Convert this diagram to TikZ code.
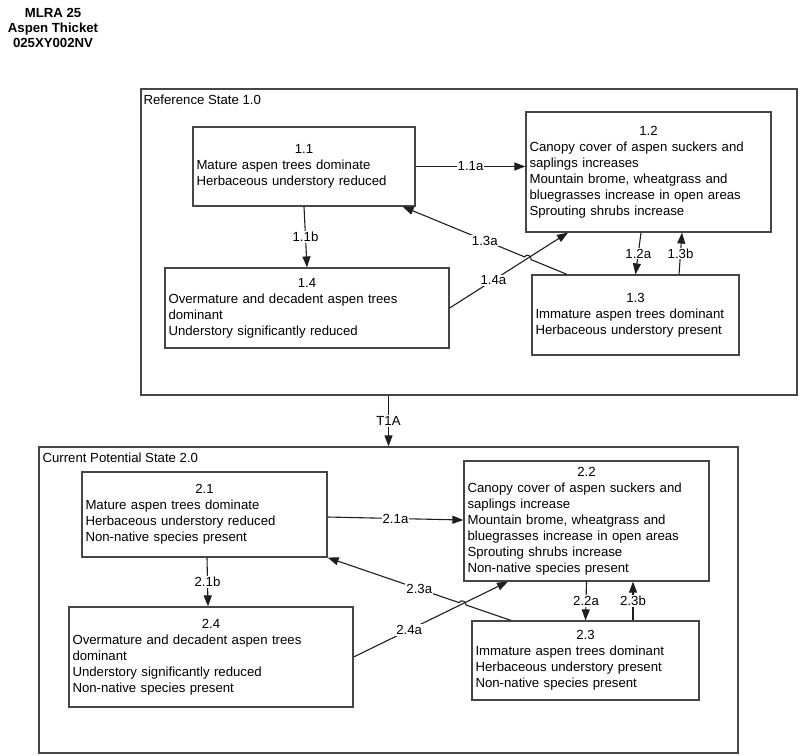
\documentclass[tikz,border=0pt]{standalone}
\usepackage{fontspec}
\setmainfont{Liberation Sans}
\usetikzlibrary{positioning, arrows.meta, calc, intersections}
\definecolor{boxline}{RGB}{70,70,70}
\definecolor{arrowline}{RGB}{30,30,30}
\newcommand{\snum}[1]{\makebox[\linewidth]{#1}\\}

\begin{document}
\begin{tikzpicture}[
    x=1pt, y=1pt,
    font=\fontsize{13.2}{16}\selectfont,
    stategroup/.style={rectangle, draw=boxline, line width=1.3pt, inner sep=0pt},
    state/.style={rectangle, draw=boxline, line width=1.2pt, fill=white, align=left, inner xsep=3.5pt, inner ysep=2pt},
    arrow/.style={-{Triangle[length=11pt, width=8pt]}, draw=arrowline, line width=1.1pt},
    tlabel/.style={fill=white, inner sep=1pt},
    hop/.style={bend right=90, looseness=1.4}
]
\useasboundingbox (0,0) rectangle (800,-755);

% Title
\node[font=\fontsize{13.2}{15}\selectfont\bfseries, align=center, anchor=north, inner sep=0pt] (title) at (53,-8) {MLRA 25\\Aspen Thicket\\025XY002NV};

% States
\node[stategroup, minimum width=656, minimum height=306] (f1) at (469,-242) {};
\node[stategroup, minimum width=699, minimum height=306] (f2) at (388.5,-600) {};
\node[anchor=base west, inner sep=0pt] (f1lab) at ([xshift=3, yshift=-16]f1.north west) {Reference State 1.0};
\node[anchor=base west, inner sep=0pt] (f2lab) at ([xshift=4, yshift=-16]f2.north west) {Current Potential State 2.0};

% Community phases 1.x
\node[state, text width=215, minimum height=79] (s11) at (304,-166.5) {\snum{1.1}Mature aspen trees dominate\\Herbaceous understory reduced};
\node[state, text width=238, minimum height=120] (s12) at (648.5,-172) {\snum{1.2}Canopy cover of aspen suckers and\\saplings increases\\Mountain brome, wheatgrass and\\bluegrasses increase in open areas\\Sprouting shrubs increase};
\node[state, text width=200, minimum height=80] (s13) at (635.5,-315) {\snum{1.3}Immature aspen trees dominant\\Herbaceous understory present};
\node[state, text width=277, minimum height=80] (s14) at (307,-308) {\snum{1.4}Overmature and decadent aspen trees\\dominant\\Understory significantly reduced};

% Community phases 2.x
\node[state, text width=238, minimum height=85] (s21) at (204.5,-514.5) {\snum{2.1}Mature aspen trees dominate\\Herbaceous understory reduced\\Non-native species present};
\node[state, text width=238, minimum height=120] (s22) at (586.5,-521) {\snum{2.2}Canopy cover of aspen suckers and\\saplings increase\\Mountain brome, wheatgrass and\\bluegrasses increase in open areas\\Sprouting shrubs increase\\Non-native species present};
\node[state, text width=220, minimum height=79] (s23) at (585.5,-660.5) {\snum{2.3}Immature aspen trees dominant\\Herbaceous understory present\\Non-native species present};
\node[state, text width=277, minimum height=100] (s24) at (211,-657) {\snum{2.4}Overmature and decadent aspen trees\\dominant\\Understory significantly reduced\\Non-native species present};

% Pathways in state 1
\draw[arrow] (s11.east) -- (s11.east -| s12.west) node[tlabel, midway] {1.1a};
\draw[arrow] (s11.south) -- (s14.north) node[tlabel, midway] {1.1b};
\draw[arrow] ([xshift=-7.5]s12.south) -- (s13.north) node[tlabel, midway] {1.2a};
\draw[arrow] ([xshift=43.5]s13.north) -- ([xshift=33.5]s12.south) node[tlabel, midway] {1.3b};
\draw[arrow, name path=p14a] (s14.east) -- ([xshift=-80.5]s12.south) node[tlabel, pos=0.37] {1.4a};
\coordinate (a13) at ([xshift=-68.5]s13.north);
\coordinate (b13) at ([xshift=-13]s11.south east);
\path[name path=p13a] (a13) -- (b13);
\path[name intersections={of=p13a and p14a, by=x13}];
\draw[arrow] (a13) -- ($(x13)!3.5pt!(a13)$) to[hop] ($(x13)!3.5pt!(b13)$) -- (b13);
\path (a13) -- node[tlabel] {1.3a} (b13);

% Pathways in state 2
\draw[arrow] ([yshift=-2.5]s21.east) -- ([yshift=1]s22.west) node[tlabel, midway] {2.1a};
\draw[arrow] ([xshift=2.5]s21.south) -- ([xshift=-3]s24.north) node[tlabel, midway] {2.1b};
\draw[arrow] (s22.south) -- (s23.north) node[tlabel, midway] {2.2a};
\draw[arrow] ([xshift=47.5]s23.north) -- ([xshift=46.5]s22.south) node[tlabel, midway] {2.3b};
\draw[arrow, name path=p24a] (s24.east) -- ([xshift=-78.5]s22.south) node[tlabel, pos=0.36] {2.4a};
\coordinate (a23) at ([xshift=-74.5]s23.north);
\coordinate (b23) at (s21.south east);
\path[name path=p23a] (a23) -- (b23);
\path[name intersections={of=p23a and p24a, by=x23}];
\draw[arrow] (a23) -- ($(x23)!3.5pt!(a23)$) to[hop] ($(x23)!3.5pt!(b23)$) -- (b23);
\path (a23) -- node[tlabel] {2.3a} (b23);

% Transition
\draw[arrow] (f2.north |- f1.south) -- (f2.north) node[tlabel, midway] {T1A};

\end{tikzpicture}
\end{document}
